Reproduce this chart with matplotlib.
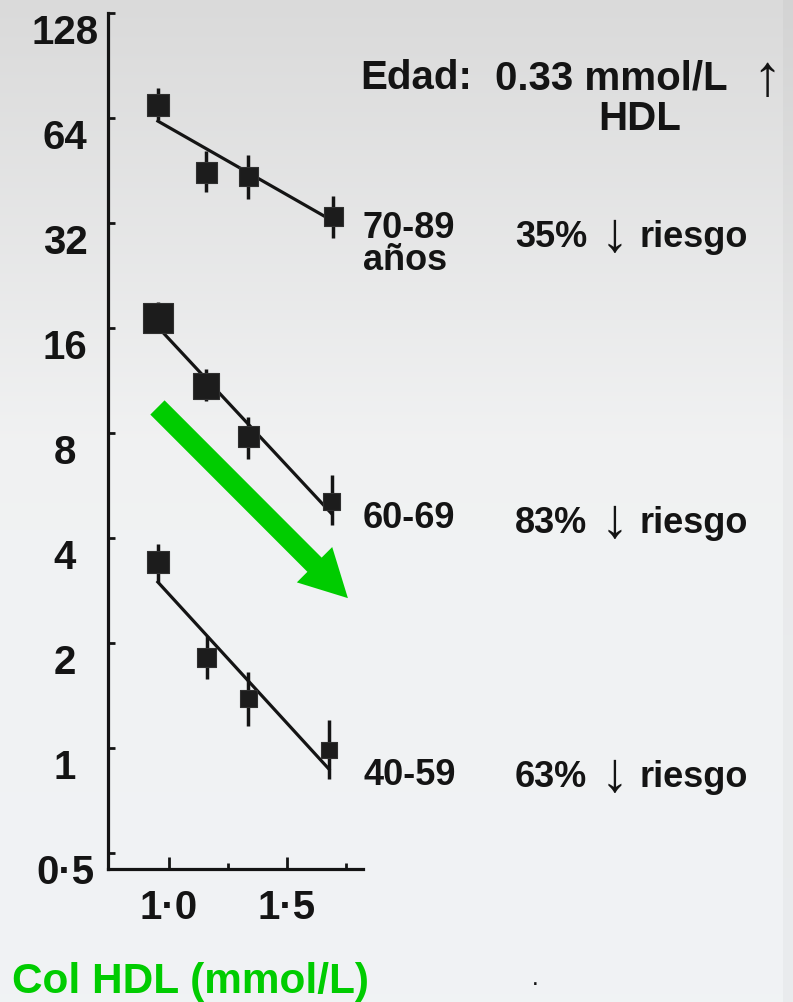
import matplotlib
matplotlib.use("Agg")
import matplotlib.pyplot as plt
import numpy as np
from matplotlib.ticker import NullLocator

plt.rcParams['font.family'] = ['Liberation Sans', 'DejaVu Sans']
plt.rcParams['font.weight'] = 'bold'

# --- data ---
groups = ['70-89', '60-69', '40-59']
hdl_x = {
    '70-89': [0.953, 1.157, 1.335, 1.695],
    '60-69': [0.953, 1.157, 1.335, 1.690],
    '40-59': [0.953, 1.160, 1.335, 1.678],
}
risk = {
    '70-89': [69.8, 44.8, 43.4, 33.3],
    '60-69': [17.1, 10.9, 7.8, 5.1],
    '40-59': [3.41, 1.82, 1.39, 0.99],
}
risk_lo = {
    '70-89': [63.0, 39.3, 37.5, 29.0],
    '60-69': [15.5, 9.9, 6.74, 4.36],
    '40-59': [3.0, 1.58, 1.16, 0.815],
}
risk_hi = {
    '70-89': [78.0, 51.5, 50.1, 38.2],
    '60-69': [19.0, 12.2, 8.9, 6.06],
    '40-59': [3.85, 2.09, 1.65, 1.20],
}
# fitted line: value at first and last HDL level
fit_ends = {
    '70-89': [62.7, 32.4],
    '60-69': [16.1, 4.69],
    '40-59': [2.99, 0.87],
}
age_labels = {'70-89': '70-89\naños', '60-69': '60-69', '40-59': '40-59'}
reduction = {'70-89': '35%', '60-69': '83%', '40-59': '63%'}

yticks = [0.5, 1, 2, 4, 8, 16, 32, 64, 128]
ytick_labels = ['0·5', '1', '2', '4', '8', '16', '32', '64', '128']
xticks = [1.0, 1.5]
xtick_labels = ['1·0', '1·5']
xminor = [1.25, 1.75]

# marker edge length in px, per point
marker_px = {
    '70-89': [22, 21, 19, 19],
    '60-69': [30, 26, 21, 17],
    '40-59': [22, 19, 17, 16],
}

W, H = 793, 1003
GREEN = '#00cc00'
INK = '#141414'

fig = plt.figure(figsize=(W / 100, H / 100), dpi=100)

# faded background
bg = fig.add_axes([0, 0, 1, 1])
t = np.linspace(0, 1, H)[:, None]
shade = np.clip(0.855 + 0.2 * t, 0, 0.945)
img = np.dstack([shade, shade + 0.008 * t, shade + 0.015 * t]) * np.ones((1, W, 1))
img[:, 783:, :] *= 0.97
bg.imshow(np.clip(img, 0, 1), aspect='auto', extent=[0, 1, 0, 1])
bg.axis('off')

ax = fig.add_axes([108 / W, 133 / H, 255 / W, 856 / H])
ax.patch.set_alpha(0)
ax.set_yscale('log', base=2)
ax.set_ylim(0.45, 128)
ax.set_xlim(0.7415, 1.822)

for s in ['top', 'right']:
    ax.spines[s].set_visible(False)
for s in ['left', 'bottom']:
    ax.spines[s].set_linewidth(2.3)
    ax.spines[s].set_color(INK)

ax.set_yticks(yticks)
ax.set_yticklabels(ytick_labels, ha='center', va='top', fontsize=29)
ax.yaxis.set_minor_locator(NullLocator())
ax.set_xticks(xticks)
ax.set_xticklabels(xtick_labels, fontsize=29)
ax.set_xticks(xminor, minor=True)
ax.tick_params(axis='y', direction='in', length=5, width=2, pad=31, colors=INK)
ax.tick_params(axis='x', which='major', direction='in', length=9, width=2,
               pad=14, colors=INK)
ax.tick_params(axis='x', which='minor', direction='in', length=4, width=2,
               colors=INK)

for g in groups:
    x = np.array(hdl_x[g])
    ax.vlines(x, risk_lo[g], risk_hi[g], color=INK, lw=2.5, zorder=3)
    ax.plot([x[0], x[-1]], fit_ends[g], color=INK, lw=2.3, zorder=2)
    sizes = (np.array(marker_px[g]) / 100 * 72) ** 2
    ax.scatter(x, risk[g], marker='s', s=sizes, c='#1c1c1c',
               edgecolors='#303030', linewidths=0.8, zorder=4)

# green trend arrow
ax.annotate('', xy=(1.758, 2.69), xytext=(0.951, 9.47),
            arrowprops=dict(arrowstyle='simple,head_length=3.4,head_width=3.6,tail_width=1.45',
                            mutation_scale=10, color=GREEN, shrinkA=0, shrinkB=0,
                            lw=0))


def ftext(x, y, s, **kw):
    kw.setdefault('va', 'baseline')
    kw.setdefault('color', INK)
    return fig.text(x / W, 1 - y / H, s, **kw)


# header
ftext(360, 89, 'Edad:', fontsize=29)
ftext(495, 90, '0.33 mmol/L', fontsize=29)
ftext(767, 80, '↑', fontsize=42, fontweight='normal', ha='center', va='center')
ftext(640, 130, 'HDL', fontsize=29, ha='center')

# age labels (baseline of last line) and risk reductions
age_base = {'70-89': 270, '60-69': 528, '40-59': 785}
risk_base = {'70-89': 247, '60-69': 533, '40-59': 787}
for g in groups:
    ftext(363, age_base[g], age_labels[g], fontsize=26, linespacing=0.9)
    yb = risk_base[g]
    ftext(515, yb, reduction[g], fontsize=26)
    ftext(614, yb - 10, '↓', fontsize=40, fontweight='normal', ha='center', va='center')
    ftext(640, yb, 'riesgo', fontsize=26)

# x axis title
ftext(12, 993, 'Col HDL (mmol/L)', fontsize=30.5, color=GREEN)
ftext(533, 985, '.', fontsize=12)

fig.savefig('out.png', dpi=100)
